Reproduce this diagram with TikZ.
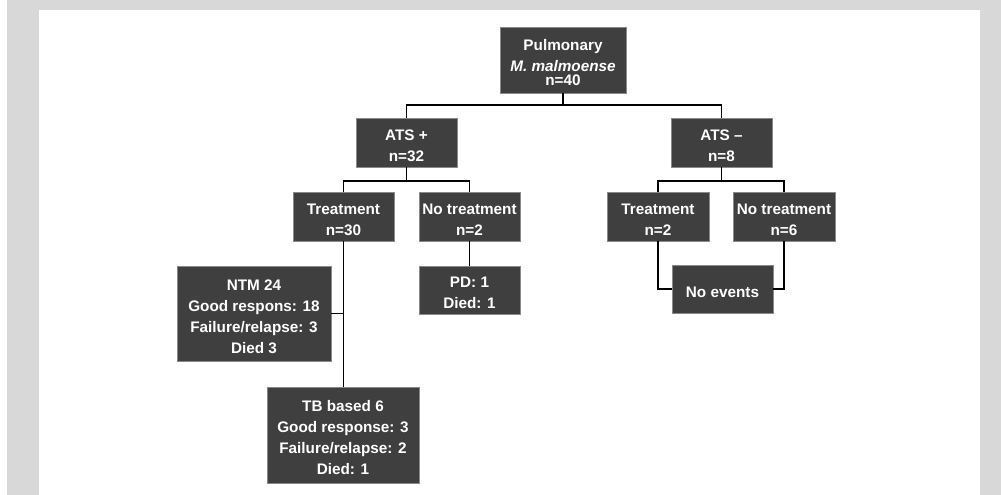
\documentclass[tikz,border=0pt]{standalone}
\usepackage{fontspec}
\setmainfont{Liberation Sans}
\definecolor{bggray}{HTML}{D8D8D8}
\definecolor{boxgray}{HTML}{3F3F3F}
\definecolor{edgegray}{HTML}{8A8A8A}
\tikzset{
  box/.style={fill=boxgray, draw=edgegray, line width=0.8pt, inner sep=0pt},
  btext/.style={text=white, font=\fontsize{15.3}{21}\selectfont\bfseries,
    align=center, inner sep=0pt},
  link/.style={draw=black, line width=1.9pt}
}
\newcommand\bx[5]{%
  \node[box, minimum width=#3, minimum height=#4] (#1) at #2 {};
  \node[btext] (#1t) at ([yshift=-3pt]#1.center) {#5};}
\begin{document}
\begin{tikzpicture}[x=1pt,y=-1pt]
\useasboundingbox (0,0) rectangle (1001,495);
\fill[white] (0,0) rectangle (1001,495);
\fill[bggray] (7,0) rectangle (1001,495);
\fill[white] (39,10) rectangle (980,495);

\bx{pul}{(563,60)}{126pt}{66pt}{Pulmonary\\ \textit{M. malmoense}\\[-7pt] n=40}
\bx{atsp}{(406.5,142.5)}{101pt}{49pt}{ATS +\\ n=32}
\bx{atsm}{(721.5,142.5)}{101pt}{49pt}{ATS --\\ n=8}
\bx{tr1}{(343.5,216.5)}{101pt}{49pt}{Treatment\\ n=30}
\bx{nt1}{(469.5,216.5)}{101pt}{49pt}{No treatment\\ n=2}
\bx{tr2}{(658,216.5)}{102pt}{49pt}{Treatment\\ n=2}
\bx{nt2}{(784,216.5)}{102pt}{49pt}{No treatment\\ n=6}
\bx{ntm}{(254,313.5)}{154pt}{95pt}{NTM 24\\ Good respons: 18\\ Failure/relapse: 3\\ Died 3}
\bx{tb}{(343,435)}{152pt}{96pt}{TB based 6\\ Good response: 3\\ Failure/relapse: 2\\ Died: 1}
\bx{pd}{(469.5,290)}{101pt}{48pt}{PD: 1\\ Died: 1}
\bx{noev}{(722.5,289)}{101pt}{48pt}{No events}

\coordinate (j1) at (563,105);
\coordinate (j2) at (406.5,181);
\coordinate (j3) at (721.5,181);

\draw[link] (pul.south) -- (j1);
\draw[link] (atsp.north) |- (j1) -| (atsm.north);
\draw[link] (atsp.south) -- (j2);
\draw[link] (tr1.north) |- (j2) -| (nt1.north);
\draw[link] (atsm.south) -- (j3);
\draw[link] (tr2.north) |- (j3) -| (nt2.north);
\draw[link] (tr1.south) -- (tr1.south |- tb.north);
\draw[link] (ntm.east) -- (ntm.east -| tr1.south);
\draw[link] (nt1.south) -- (pd.north);
\draw[link] (tr2.south) |- (noev.west);
\draw[link] (nt2.south) |- (noev.east);
\end{tikzpicture}
\end{document}
